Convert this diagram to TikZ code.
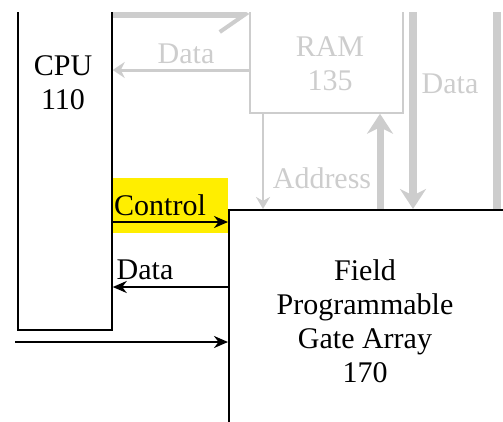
\documentclass[tikz,border=0pt]{standalone}
\usepackage{fontspec}
\setmainfont{Liberation Serif}
\usetikzlibrary{arrows.meta}
\definecolor{faded}{RGB}{205,205,205}
\definecolor{marker}{RGB}{255,238,0}
\tikzset{
  block/.style={draw, line width=1.5pt, inner sep=0pt},
  lbl/.style={font=\fontsize{30}{34}\selectfont, align=center, inner sep=0pt},
  bus/.style={line width=2.5pt, -{Stealth[length=14pt,width=12pt]}},
  fadedbus/.style={faded, line width=#1},
}

\begin{document}
\begin{tikzpicture}[x=1pt,y=-1pt]
        \useasboundingbox (0,0) rectangle (503,421);
        \clip (0,12) rectangle (503,421);

        \fill[marker] (113,178) rectangle (228,233);

        \node[block, minimum width=94pt, minimum height=340pt] (cpu) at (65,160) {};
        \node[lbl] (cpulbl) at (63,83) {CPU\\110};
        \node[block, draw=faded, minimum width=153pt, minimum height=140pt] (ram) at (326.5,43) {};
        \node[lbl, text=faded] (ramlbl) at (330,64) {RAM\\135};
        \node[block, minimum width=300pt, minimum height=250pt, anchor=north west] (fpga) at (228,209) {};
        \node[lbl] (fpgalbl) at (365,321) {Field\\Programmable\\Gate Array\\170};

        \coordinate (dtop) at (413,0);
        \coordinate (etop) at (497,0);
        \coordinate (inlet) at (15,342);

        \draw[fadedbus=8pt, -{Straight Barb[length=26pt,width=36pt,line width=4pt]}] (cpu.east |- 0,14) -- (ram.west |- 0,14);
        \draw[fadedbus=3pt, -{Stealth[length=12pt,width=16pt]}] (ram.west |- 0,70) -- (cpu.east |- 0,70);
        \node[lbl, text=faded] (datatop) at (186,54) {Data};

        \draw[fadedbus=2.5pt, -{Stealth[length=12pt,width=14pt]}] (ram.south -| 263,0) -- (fpga.north -| 263,0);
        \node[lbl, text=faded] (addrlbl) at (322,178) {Address};
        \draw[fadedbus=7pt, -{Stealth[length=20pt,width=26pt]}] (fpga.north -| 380,0) -- (ram.south -| 380,0);
        \draw[fadedbus=8pt, -{Stealth[length=20pt,width=26pt]}] (dtop) -- (fpga.north -| dtop);
        \node[lbl, text=faded] (dataright) at (450,84) {Data};
        \draw[fadedbus=8pt] (etop) -- (fpga.north -| etop);

        \draw[bus] (cpu.east |- 0,222) -- (fpga.west |- 0,222);
        \node[lbl] (ctllbl) at (160,205) {Control};
        \draw[bus] (fpga.west |- 0,287) -- (cpu.east |- 0,287);
        \node[lbl] (datalbl) at (145,270) {Data};
        \draw[bus] (inlet) -- (fpga.west |- inlet);
\end{tikzpicture}
\end{document}
